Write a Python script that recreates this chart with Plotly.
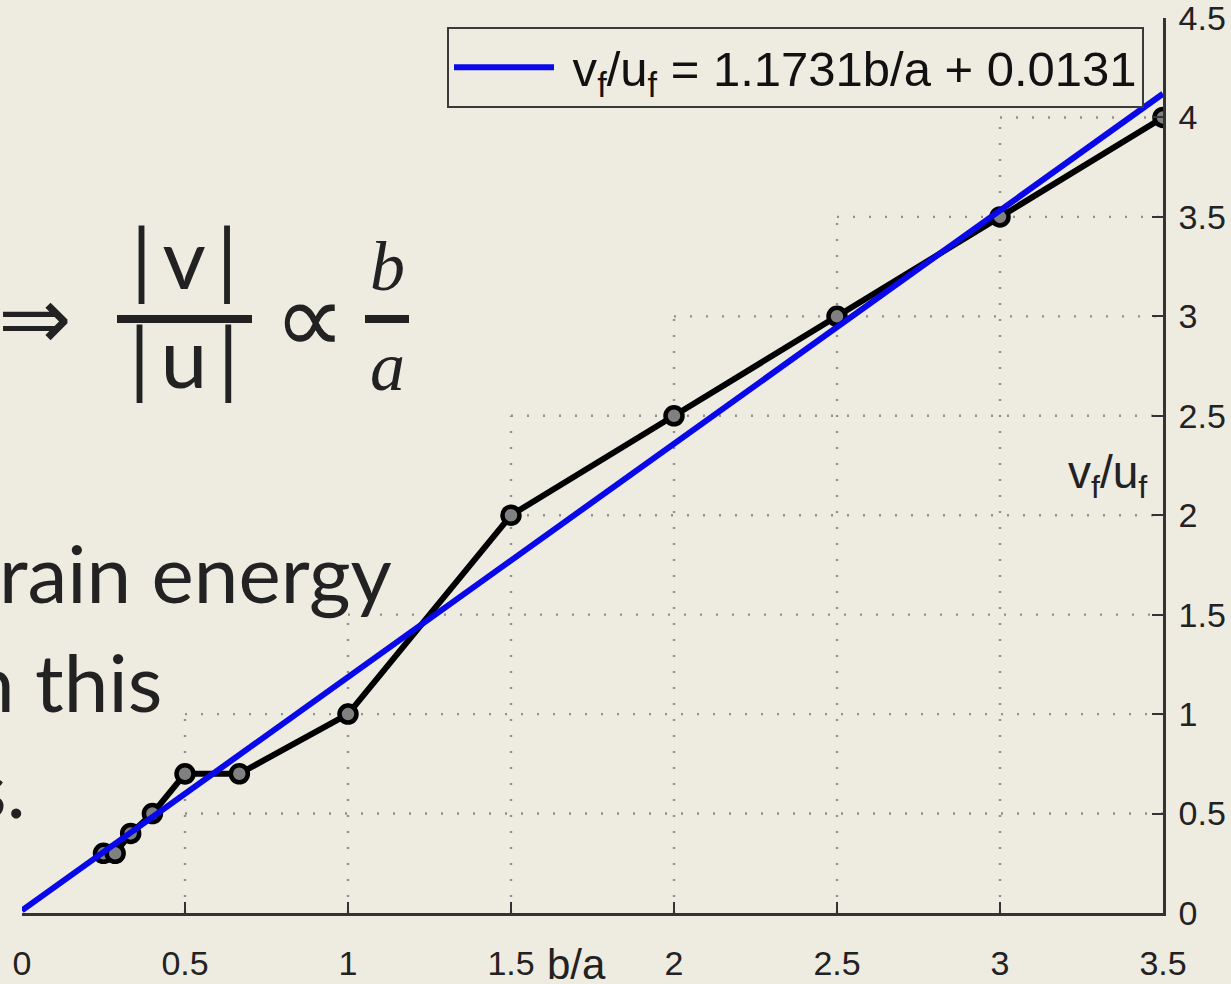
import plotly.graph_objects as go

# ---- data -------------------------------------------------------------
ratio_ba = [0.25, 0.2857, 0.3333, 0.4, 0.5, 0.6667, 1.0, 1.5, 2.0, 2.5, 3.0, 3.5]
ratio_vu = [0.3, 0.3, 0.4, 0.5, 0.7, 0.7, 1.0, 2.0, 2.5, 3.0, 3.5, 4.0]

fit_slope = 1.1731
fit_intercept = 0.0131
fit_x = [0.0, 3.5]

x_ticks = [0, 0.5, 1, 1.5, 2, 2.5, 3, 3.5]
x_tick_text = ["0", "0.5", "1", "1.5", "2", "2.5", "3", "3.5"]
y_ticks = [0, 0.5, 1, 1.5, 2, 2.5, 3, 3.5, 4, 4.5]
y_tick_text = ["0", "0.5", "1", "1.5", "2", "2.5", "3", "3.5", "4", "4.5"]

# visible portions of the dotted grid (the rest sits under the slide text)
h_grid_y = [0.5, 1, 1.5, 2, 2.5, 3, 3.5, 4]
h_grid_from_x = [0.5, 0.5, 1, 1.5, 1.5, 2, 2.5, 3]
v_grid_x = [0.5, 1, 1.5, 2, 2.5, 3]
v_grid_to_y = [1, 1.5, 2.5, 3, 3.5, 4]

# ---- styling ----------------------------------------------------------
W, H = 1231, 984
M_L, M_R, M_T, M_B = 22, 68, 18, 71
BG = "#EEEBE1"
INK = "#222222"
AX_FONT = "Liberation Sans, Arial, sans-serif"
SLIDE_FONT = "Lato, Noto Sans, sans-serif"
MATH_FONT = "Liberation Serif, DejaVu Serif, serif"
SYM_FONT = "DejaVu Sans, sans-serif"


def px_x(px):
    return (px - M_L) / (W - M_L - M_R)


def px_y(py):
    return (H - M_B - py) / (H - M_T - M_B)


fit_y = [fit_slope * x + fit_intercept for x in fit_x]

fig = go.Figure()

fig.add_trace(go.Scatter(
    x=ratio_ba, y=ratio_vu, mode="lines+markers",
    line=dict(color="#000000", width=6),
    marker=dict(symbol="circle", size=17, color="#808080",
                line=dict(color="#000000", width=4.5)),
    showlegend=False, hoverinfo="skip",
))

fig.add_trace(go.Scatter(
    x=fit_x, y=fit_y, mode="lines",
    line=dict(color="#0808E8", width=6),
    name=f"\u00a0v<sub>f</sub>/u<sub>f</sub> = {fit_slope}b/a + {fit_intercept}",
    showlegend=True, hoverinfo="skip",
))

shapes = []
grid_line = dict(color="#8f8f8f", width=2.4, dash="2px,14px")
for yv, x0 in zip(h_grid_y, h_grid_from_x):
    shapes.append(dict(type="line", xref="x", yref="y", x0=x0, x1=3.5,
                       y0=yv, y1=yv, line=grid_line, layer="below"))
for xv, y1 in zip(v_grid_x, v_grid_to_y):
    shapes.append(dict(type="line", xref="x", yref="y", x0=xv, x1=xv,
                       y0=0, y1=y1, line=grid_line, layer="below"))

# fraction bars of the slide formula
shapes.append(dict(type="line", xref="paper", yref="paper",
                   x0=px_x(117), x1=px_x(252), y0=px_y(319), y1=px_y(319),
                   line=dict(color=INK, width=8)))
shapes.append(dict(type="line", xref="paper", yref="paper",
                   x0=px_x(365), x1=px_x(409), y0=px_y(319), y1=px_y(319),
                   line=dict(color=INK, width=8)))

annotations = []


def slide_text(text, cx, cy, size, family=SLIDE_FONT, xanchor="center",
               italic=False):
    annotations.append(dict(
        text=text, xref="paper", yref="paper", x=px_x(cx), y=px_y(cy),
        xanchor=xanchor, yanchor="middle", showarrow=False,
        font=dict(family=family, size=size, color=INK,
                  style="italic" if italic else "normal"),
    ))


slide_text("⇒", 74, 318, 88, family=SYM_FONT, xanchor="right")
slide_text("|\u2009v\u2009|", 184, 256, 84)
slide_text("|\u2009u\u2009|", 184, 355, 84)
slide_text("∝", 309, 318, 100, family=SYM_FONT)
slide_text("b", 387, 266, 70, family=MATH_FONT, italic=True)
slide_text("a", 387, 366, 70, family=MATH_FONT, italic=True)
slide_text("rain energy", 394, 572, 80, xanchor="right")
slide_text("n this", 164, 681, 80, xanchor="right")
slide_text("s.", 28, 787, 80, xanchor="right")

# axis labels drawn inside/near the plot frame
annotations.append(dict(
    text="v<sub>f</sub>/u<sub>f</sub>", xref="x", yref="y", x=3.33, y=2.2,
    xanchor="center", yanchor="middle", showarrow=False,
    font=dict(family=AX_FONT, size=46, color=INK),
))
annotations.append(dict(
    text="b/a", xref="x", yref="paper", x=1.7, y=px_y(964),
    xanchor="center", yanchor="middle", showarrow=False,
    font=dict(family=AX_FONT, size=42, color=INK),
))

fig.update_layout(
    width=W, height=H,
    margin=dict(l=M_L, r=M_R, t=M_T, b=M_B, pad=0, autoexpand=False),
    paper_bgcolor=BG, plot_bgcolor=BG,
    shapes=shapes, annotations=annotations,
    legend=dict(
        x=px_x(447), y=px_y(27), xanchor="left", yanchor="top",
        bgcolor=BG, bordercolor="#3a3a3a", borderwidth=2,
        font=dict(family=AX_FONT, size=49, color="#111111"),
        itemwidth=100, tracegroupgap=0,
    ),
    xaxis=dict(
        range=[0, 3.5], tickvals=x_ticks, ticktext=x_tick_text,
        showgrid=False, zeroline=False, showline=True, automargin=False,
        linecolor="#333333", linewidth=2.5, mirror=False,
        ticks="inside", ticklen=11, tickwidth=2, tickcolor="#333333",
        ticklabelstandoff=18, ticklabeloverflow="allow",
        tickfont=dict(family=AX_FONT, size=34, color=INK),
        fixedrange=True,
    ),
    yaxis=dict(
        range=[0, 4.5], tickvals=y_ticks, ticktext=y_tick_text,
        side="right", showgrid=False, zeroline=False, showline=True,
        automargin=False,
        linecolor="#333333", linewidth=2.5,
        ticks="inside", ticklen=11, tickwidth=2, tickcolor="#333333",
        ticklabelstandoff=6, ticklabeloverflow="allow",
        tickfont=dict(family=AX_FONT, size=34, color=INK),
        fixedrange=True,
    ),
)

fig.write_html("out.html")
